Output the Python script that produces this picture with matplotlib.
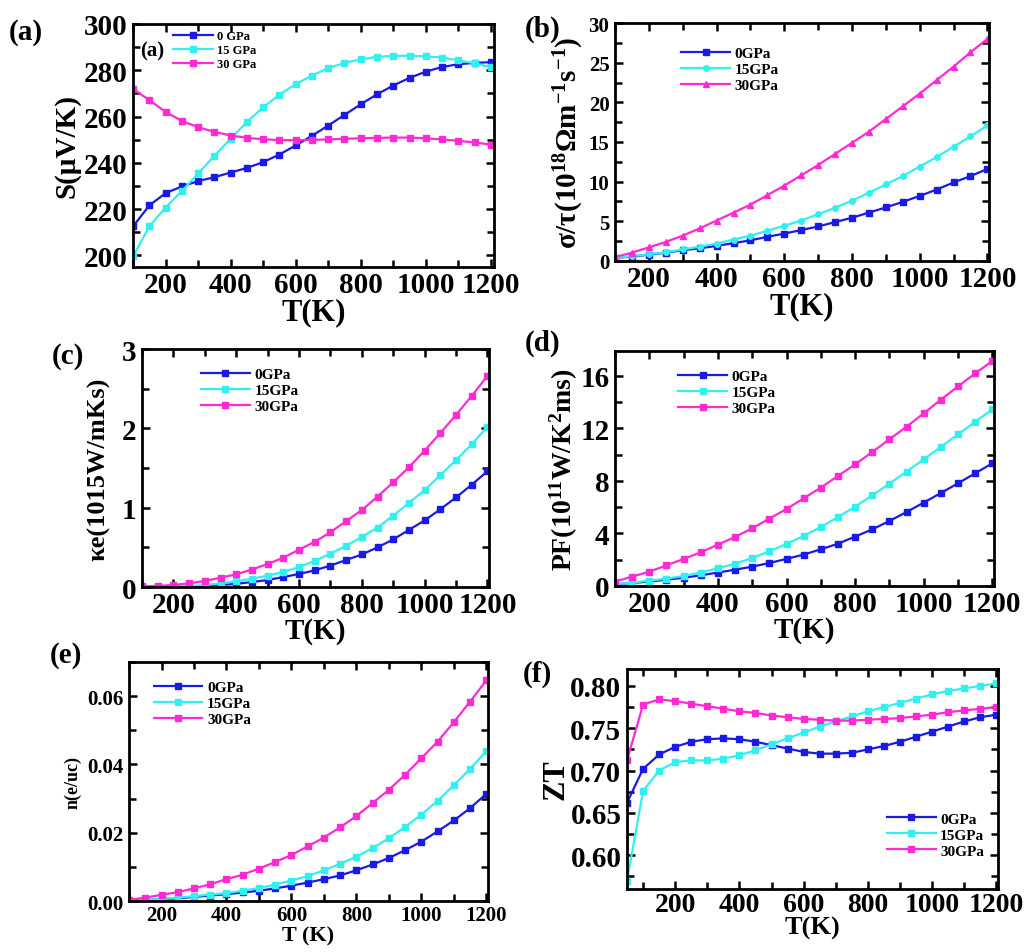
import numpy as np
import matplotlib
matplotlib.use('Agg')
import matplotlib.pyplot as plt
from matplotlib.ticker import MultipleLocator, FormatStrFormatter

plt.rcParams['font.family'] = ['Liberation Serif', 'DejaVu Serif']
plt.rcParams['font.weight'] = 'bold'
plt.rcParams['axes.labelweight'] = 'bold'
plt.rcParams['mathtext.fontset'] = 'custom'
plt.rcParams['mathtext.rm'] = 'Liberation Serif:bold'
plt.rcParams['mathtext.it'] = 'Liberation Serif:bold'
plt.rcParams['mathtext.bf'] = 'Liberation Serif:bold'
plt.rcParams['mathtext.default'] = 'rm'

T = np.arange(100, 1201, 50)
T_zt = np.arange(50, 1201, 50)

# Seebeck coefficient S (uV/K)
S_0 = [212.5, 221.6, 226.9, 229.8, 232.1, 233.8, 235.8, 237.8, 240.3, 243.6, 247.5, 251.7,
       256.1, 260.7, 265.3, 269.6, 273.4, 276.7, 279.4, 281.4, 282.6, 283.2, 283.5]
S_15 = [199.6, 212.5, 220.7, 227.8, 235.4, 243.0, 250.4, 257.6, 264.0, 269.4, 274.0, 277.7,
        280.9, 283.2, 284.7, 285.8, 286.2, 286.3, 286.0, 285.5, 284.3, 283.0, 281.3]
S_30 = [271.9, 267.1, 262.0, 258.1, 255.4, 253.4, 251.8, 250.8, 250.2, 249.8, 249.8, 249.9,
        250.1, 250.4, 250.6, 250.8, 250.9, 250.9, 250.6, 250.1, 249.5, 248.8, 247.9]

# electrical conductivity sigma/tau
sig_0 = [0.4, 0.55, 0.8, 1.05, 1.35, 1.6, 1.9, 2.25, 2.6, 3.05, 3.45, 3.9,
         4.35, 4.9, 5.45, 6.1, 6.75, 7.45, 8.2, 9.0, 9.9, 10.7, 11.6]
sig_15 = [0.4, 0.6, 0.85, 1.1, 1.45, 1.8, 2.2, 2.7, 3.2, 3.8, 4.45, 5.1,
          5.9, 6.7, 7.6, 8.6, 9.65, 10.7, 11.9, 13.1, 14.4, 15.7, 17.1]
sig_30 = [0.5, 1.05, 1.72, 2.4, 3.2, 4.1, 5.1, 6.1, 7.1, 8.3, 9.5, 10.8,
          12.1, 13.5, 14.9, 16.3, 17.9, 19.5, 21.1, 22.8, 24.5, 26.3, 28.0]

# electronic thermal conductivity
ke_0 = [0.0, 0.0, 0.002, 0.006, 0.013, 0.025, 0.04, 0.063, 0.088, 0.126, 0.164, 0.21,
        0.27, 0.34, 0.41, 0.50, 0.60, 0.72, 0.84, 0.98, 1.13, 1.29, 1.46]
ke_15 = [0.0, 0.002, 0.005, 0.013, 0.025, 0.046, 0.072, 0.105, 0.143, 0.19, 0.25, 0.33,
         0.42, 0.52, 0.63, 0.75, 0.90, 1.06, 1.22, 1.41, 1.60, 1.80, 2.02]
ke_30 = [0.01, 0.013, 0.025, 0.046, 0.076, 0.118, 0.16, 0.22, 0.29, 0.37, 0.47, 0.57,
         0.69, 0.83, 0.97, 1.14, 1.32, 1.51, 1.72, 1.94, 2.17, 2.41, 2.66]

# power factor
pf_0 = [0.13, 0.23, 0.33, 0.48, 0.63, 0.81, 1.02, 1.24, 1.47, 1.75, 2.06, 2.39,
        2.79, 3.22, 3.76, 4.31, 4.95, 5.63, 6.35, 7.08, 7.82, 8.58, 9.34]
pf_15 = [0.13, 0.25, 0.4, 0.56, 0.76, 1.02, 1.35, 1.7, 2.13, 2.64, 3.2, 3.81,
         4.49, 5.25, 6.04, 6.9, 7.79, 8.71, 9.64, 10.6, 11.55, 12.51, 13.45]
pf_30 = [0.33, 0.71, 1.09, 1.57, 2.06, 2.56, 3.15, 3.73, 4.39, 5.13, 5.86, 6.68,
         7.49, 8.38, 9.26, 10.2, 11.17, 12.13, 13.15, 14.19, 15.2, 16.19, 17.13]

# carrier concentration n (e/uc)
n_0 = [0.0001, 0.0003, 0.0005, 0.0008, 0.0012, 0.0016, 0.002, 0.0025, 0.003, 0.0037, 0.0045, 0.0054,
       0.0064, 0.0075, 0.009, 0.0107, 0.0126, 0.0149, 0.0174, 0.0204, 0.0236, 0.0272, 0.0314]
n_15 = [0.0001, 0.0003, 0.0006, 0.001, 0.0014, 0.0019, 0.0023, 0.003, 0.0038, 0.0048, 0.006, 0.0073,
        0.009, 0.0109, 0.013, 0.0155, 0.0184, 0.0217, 0.0253, 0.0294, 0.0339, 0.0387, 0.0439]
n_30 = [0.0003, 0.001, 0.0018, 0.0026, 0.0037, 0.0049, 0.0064, 0.0077, 0.0095, 0.0114, 0.0135, 0.016,
        0.0186, 0.0216, 0.0249, 0.0287, 0.0326, 0.037, 0.0418, 0.0467, 0.0524, 0.0584, 0.0646]

# figure of merit ZT (starts at 50 K)
zt_0 = [0.662, 0.702, 0.719, 0.728, 0.734, 0.737, 0.738, 0.737, 0.734, 0.730, 0.726, 0.722,
        0.720, 0.720, 0.721, 0.725, 0.729, 0.734, 0.740, 0.746, 0.752, 0.758, 0.763, 0.766]
zt_15 = [0.570, 0.676, 0.700, 0.710, 0.712, 0.712, 0.714, 0.718, 0.724, 0.731, 0.738, 0.745,
         0.752, 0.758, 0.764, 0.770, 0.775, 0.780, 0.785, 0.790, 0.794, 0.797, 0.800, 0.803]
zt_30 = [0.712, 0.778, 0.784, 0.782, 0.779, 0.776, 0.773, 0.770, 0.768, 0.765, 0.763, 0.761,
         0.760, 0.759, 0.759, 0.760, 0.761, 0.762, 0.764, 0.766, 0.769, 0.771, 0.773, 0.775]

BLUE = '#1a1ae6'
CYAN = '#33f0f0'
MAGENTA = '#ff2ad4'

fig = plt.figure(figsize=(10.33, 9.53), dpi=100)


def style(ax, xmaj, xmin, ymaj, ymin, tsize_x, tsize_y, xpad=3):
    ax.xaxis.set_major_locator(MultipleLocator(xmaj))
    ax.xaxis.set_minor_locator(MultipleLocator(xmin))
    ax.yaxis.set_major_locator(MultipleLocator(ymaj))
    ax.yaxis.set_minor_locator(MultipleLocator(ymin))
    ax.tick_params(which='both', direction='in', top=True, right=True, width=1.8)
    ax.tick_params(which='major', length=6)
    ax.tick_params(which='minor', length=5)
    ax.tick_params(axis='x', labelsize=tsize_x, pad=xpad)
    ax.tick_params(axis='y', labelsize=tsize_y, pad=4)
    for s in ax.spines.values():
        s.set_linewidth(2)


def three(ax, x, a, b, c, labels, markers=('s', 's', 's'), ms=4):
    ax.plot(x, a, color=BLUE, marker=markers[0], ms=ms, lw=1.6, label=labels[0])
    ax.plot(x, b, color=CYAN, marker=markers[1], ms=ms, lw=1.6, label=labels[1])
    ax.plot(x, c, color=MAGENTA, marker=markers[2], ms=ms, lw=1.6, label=labels[2])


gpa = ['0GPa', '15GPa', '30GPa']
leg_kw = dict(frameon=False, handlelength=3.2, labelspacing=0.15, handletextpad=0.3,
              prop={'weight': 'bold', 'size': 11})

# (a) Seebeck
ax = fig.add_axes([0.1288, 0.7188, 0.3495, 0.255])
three(ax, T, S_0, S_15, S_30, ['0 GPa', '15 GPa', '30 GPa'])
ax.set_xlim(100, 1210)
ax.set_ylim(195, 300)
style(ax, 200, 100, 20, 10, 21, 21)
ax.set_xlabel('T(K)', fontsize=22, labelpad=-1)
ax.set_ylabel('S(μV/K)', fontsize=21, labelpad=2)
ax.legend(loc='upper left', bbox_to_anchor=(0.08, 1.02), **dict(leg_kw, prop={'weight': 'bold', 'size': 9}))
ax.text(0.02, 0.87, '(a)', transform=ax.transAxes, fontsize=15, fontweight='bold')

# (b) conductivity
ax = fig.add_axes([0.5954, 0.7251, 0.3621, 0.2497])
three(ax, T, sig_0, sig_15, sig_30, gpa, markers=('s', 'o', '^'))
ax.set_xlim(100, 1205)
ax.set_ylim(0, 30)
style(ax, 200, 100, 5, 2.5, 21, 15)
ax.set_xlabel('T(K)', fontsize=22, labelpad=-1)
ax.set_ylabel(r'σ/τ(10$^{18}$Ωm$^{-1}$s$^{-1}$)', fontsize=21, labelpad=2)
ax.legend(loc='upper left', bbox_to_anchor=(0.14, 0.96), **leg_kw)

# (c) electronic thermal conductivity
ax = fig.add_axes([0.1375, 0.383, 0.3359, 0.2497])
three(ax, T, ke_0, ke_15, ke_30, gpa)
ax.set_xlim(100, 1205)
ax.set_ylim(0, 3)
style(ax, 200, 100, 1, 0.5, 21, 21)
ax.set_xlabel('T(K)', fontsize=21, labelpad=-1)
ax.set_ylabel('κe(1015W/mKs)', fontsize=19, labelpad=8)
ax.legend(loc='upper left', bbox_to_anchor=(0.13, 0.98), **leg_kw)

# (d) power factor
ax = fig.add_axes([0.5954, 0.3841, 0.3669, 0.2466])
three(ax, T, pf_0, pf_15, pf_30, gpa)
ax.set_xlim(100, 1205)
ax.set_ylim(0, 17.9)
style(ax, 200, 100, 4, 2, 21, 21)
ax.set_xlabel('T(K)', fontsize=21, labelpad=-1)
ax.set_ylabel(r'PF(10$^{11}$W/K$^{2}$ms)', fontsize=20, labelpad=0)
ax.legend(loc='upper left', bbox_to_anchor=(0.13, 0.98), **leg_kw)

# (e) carrier concentration
ax = fig.add_axes([0.1249, 0.0535, 0.3475, 0.2508])
three(ax, T, n_0, n_15, n_30, gpa)
ax.set_xlim(100, 1205)
ax.set_ylim(0, 0.07)
style(ax, 200, 100, 0.02, 0.01, 15, 15)
ax.yaxis.set_major_formatter(FormatStrFormatter('%.2f'))
ax.set_xlabel('T (K)', fontsize=16, labelpad=0)
ax.set_ylabel('n(e/uc)', fontsize=13, labelpad=4)
ax.legend(loc='upper left', bbox_to_anchor=(0.03, 0.98), **leg_kw)

# (f) ZT
ax = fig.add_axes([0.607, 0.066, 0.3591, 0.2310])
three(ax, T_zt, zt_0, zt_15, zt_30, gpa)
ax.set_xlim(50, 1205)
ax.set_ylim(0.56, 0.82)
style(ax, 200, 100, 0.05, 0.025, 20, 21, xpad=2)
ax.yaxis.set_major_formatter(FormatStrFormatter('%.2f'))
ax.set_xlabel('T(K)', fontsize=19, labelpad=-1)
ax.set_ylabel('ZT', fontsize=22, labelpad=0)
ax.legend(loc='lower right', bbox_to_anchor=(1.0, 0.08), **leg_kw)

# panel letters
for txt, x, y in [('(a)', 0.008, 0.958), ('(b)', 0.508, 0.962), ('(c)', 0.05, 0.618),
                  ('(d)', 0.508, 0.632), ('(e)', 0.048, 0.305), ('(f)', 0.506, 0.285)]:
    fig.text(x, y, txt, fontsize=21, fontweight='bold')

fig.savefig('out.png', dpi=100)
